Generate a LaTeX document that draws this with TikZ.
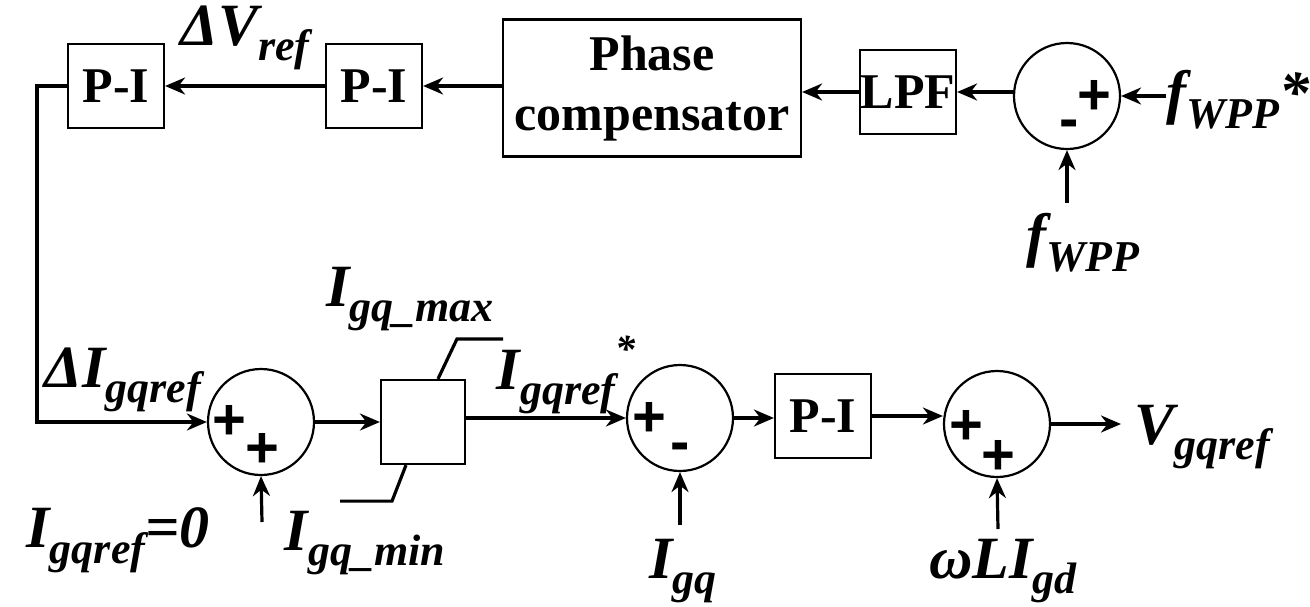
\documentclass[tikz,border=0pt]{standalone}
\usepackage{fontspec}
\setmainfont{Liberation Serif}
\newfontfamily\signfont{Liberation Sans}
\usetikzlibrary{positioning, calc, arrows.meta}

\newcommand{\lowsub}[1]{\raisebox{-0.26em}{\fontsize{44pt}{44pt}\selectfont #1}}

\begin{document}
\begin{tikzpicture}[
        x=1pt, y=-1pt,
        block/.style={rectangle, draw, line width=2.2pt, minimum width=96pt, minimum height=84pt, inner sep=0pt, align=center, font=\bfseries\fontsize{50pt}{60pt}\selectfont},
        sumnode/.style={circle, draw, line width=2.2pt, minimum size=106pt, inner sep=0pt},
        sign/.style={inner sep=0pt, font=\signfont\bfseries\fontsize{58pt}{58pt}\selectfont},
        varlbl/.style={inner sep=0pt, font=\bfseries\itshape\fontsize{60pt}{60pt}\selectfont},
        arrow/.style={->, >={Stealth[length=20pt, width=17pt]}, line width=3.2pt},
        limit/.style={line width=3.2pt}
    ]
        \useasboundingbox (0,0) rectangle (1310,606);

        % Frequency loop
        \node[block] (PIa) at (116,86) {P-I};
        \node[block] (PIb) at (374,86) {P-I};
        \node[block, minimum width=298pt, minimum height=137pt] (PC) at (652,88) {Phase\\compensator};
        \node[block] (LPF) at (908,92) {LPF};
        \node[sumnode] (SUMf) at (1067,96) {};
        \node[sign] (SUMfp) at (1094,97) {+};
        \node[sign] (SUMfm) at (1069,129) {-};

        \node[varlbl] (dV) at (245,38) {ΔV\lowsub{ref}};
        \node[varlbl] (FWs) at (1238,100) {f\lowsub{WPP}*};
        \node[varlbl] (FW) at (1083,243) {f\lowsub{WPP}};
        \coordinate (FWtail) at (1067,203);

        % Current loop
        \node[sumnode] (SUMa) at (261,422) {};
        \node[sign] (SUMap) at (229,422) {+};
        \node[sign] (SUMaq) at (262,450) {+};
        \node[block, minimum width=84pt] (LIM) at (423,422) {};
        \node[sumnode] (SUMi) at (680,418) {};
        \node[sign] (SUMip) at (649,419) {+};
        \node[sign] (SUMim) at (680,452) {-};
        \node[block] (PIc) at (823,416) {P-I};
        \node[sumnode] (SUMv) at (997,424) {};
        \node[sign] (SUMvp) at (966,427) {+};
        \node[sign] (SUMvq) at (998,457) {+};

        \node[varlbl] (dI) at (123,380) {ΔI\lowsub{gqref}};
        \node[varlbl] (I0) at (118,540) {I\lowsub{gqref}=0};
        \node[varlbl] (Imax) at (410,299) {I\lowsub{gq\_max}};
        \node[varlbl] (Imin) at (365,543) {I\lowsub{gq\_min}};
        \node[varlbl] (Istar) at (566,375) {I\lowsub{gqref}\raisebox{0.45em}{\fontsize{40pt}{40pt}\selectfont *}};
        \node[varlbl] (Igq) at (683,571) {I\lowsub{gq}};
        \node[varlbl] (wLI) at (1003,571) {ωLI\lowsub{gd}};
        \node[varlbl] (Vout) at (1202,437) {V\lowsub{gqref}};
        \coordinate (SUMatail) at (262,522);
        \coordinate (SUMitail) at (680,525);
        \coordinate (SUMvtail) at (998,529);
        \coordinate (Vend) at (1121,424);

        % Connections, upper loop
        \draw[arrow] (LPF.east -| SUMf.west) -- (LPF.east);
        \draw[arrow] (LPF.west) -- (LPF.west -| PC.east);
        \draw[arrow] (PIb.east -| PC.west) -- (PIb.east);
        \draw[arrow] (PIb.west) -- (PIa.east);
        \draw[arrow] (SUMf.east -| FWs.west) -- (SUMf.east);
        \draw[arrow] (FWtail) -- (SUMf.south);

        % Feedback to current loop
        \draw[arrow] (PIa.west) -- ++(-30,0) |- (SUMa.west);

        % Connections, lower loop
        \draw[arrow] (SUMa.east) -- (LIM.west);
        \draw[arrow] (LIM.east |- SUMi.west) -- (SUMi.west);
        \draw[arrow] (SUMi.east) -- (SUMi.east -| PIc.west);
        \draw[arrow] (PIc.east) -- (PIc.east -| SUMv.west);
        \draw[arrow] (SUMv.east) -- (Vend);
        \draw[arrow] (SUMatail) -- (SUMa.south);
        \draw[arrow] (SUMitail) -- (SUMi.south);
        \draw[arrow] (SUMvtail) -- (SUMv.south);

        % Limiter
        \draw[limit] ([xshift=15pt]LIM.north) -- ++(19,-40) -- ++(46,0);
        \draw[limit] ([xshift=-17pt]LIM.south) -- ++(-14,36) -- ++(-52,0);
    \end{tikzpicture}
\end{document}
